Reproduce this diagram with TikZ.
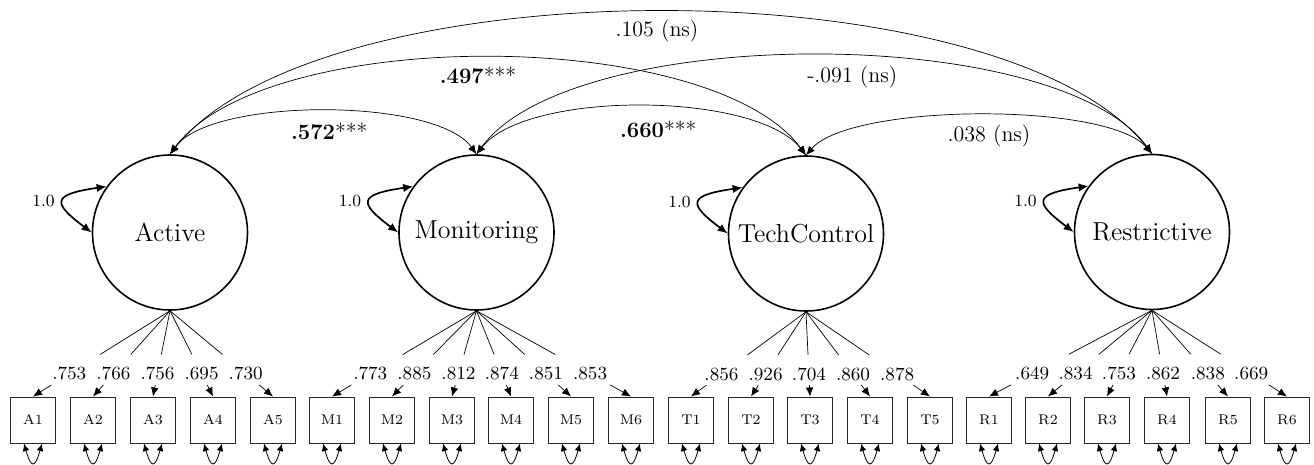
\documentclass[tikz,border=0pt]{standalone}
\usetikzlibrary{arrows.meta,calc}
\begin{document}
\begin{tikzpicture}[x=0.5pt,y=-0.5pt,
 latent/.style={circle,draw,line width=0.8pt,minimum size=77.5pt,inner sep=0pt,font=\fontsize{13}{15}\selectfont},
 manifest/.style={rectangle,draw=black!85,line width=0.5pt,minimum width=22.5pt,minimum height=23pt,inner sep=0pt,font=\fontsize{7}{8}\selectfont},
 corr/.style={line width=0.35pt,{Latex[length=4.5pt,width=3.8pt]}-{Latex[length=4.5pt,width=3.8pt]}},
 corrlbl/.style={font=\fontsize{11}{13}\selectfont,inner sep=0pt,pos=0.5},
 load/.style={line width=0.35pt,-{Latex[length=4.5pt,width=3.8pt]}},
 loadlbl/.style={inner sep=0pt,font=\fontsize{9.3}{11}\selectfont},
 varloop/.style={line width=0.85pt,{Latex[length=5pt,width=4.2pt]}-{Latex[length=5pt,width=4.2pt]}},
 varlbl/.style={font=\fontsize{8.5}{10}\selectfont,inner sep=0pt},
 resid/.style={line width=0.4pt,{Latex[length=3.8pt,width=3.3pt]}-{Latex[length=3.8pt,width=3.3pt]}}
]
\useasboundingbox (0,0) rectangle (1314,465);

\node[latent] (Act) at (170,232.5) {Active};
\node[latent] (Mon) at (476.5,232.5) {Monitoring};
\node[latent] (Tec) at (806,233.5) {TechControl};
\node[latent] (Res) at (1152,232) {Restrictive};

% variance loops
\draw[varloop] (Act.144) .. controls +(-55,8) and +(-40,-30) .. (Act.180) node[varlbl,pos=0.5,left=4pt]{1.0};
\draw[varloop] (Mon.144) .. controls +(-55,8) and +(-40,-30) .. (Mon.180) node[varlbl,pos=0.5,left=4pt]{1.0};
\draw[varloop] (Tec.144) .. controls +(-55,8) and +(-40,-30) .. (Tec.180) node[varlbl,pos=0.5,left=4pt]{1.0};
\draw[varloop] (Res.144) .. controls +(-55,8) and +(-40,-30) .. (Res.180) node[varlbl,pos=0.5,left=4pt]{1.0};

% correlations
\draw[corr] (Act.north) .. controls +(150,-189) and +(-150,-189) .. (Res.north) node[corrlbl,xshift=-2pt,yshift=-9.5pt]{.105 (ns)};
\draw[corr] (Act.north) .. controls +(95,-129) and +(-95,-129) .. (Tec.north) node[corrlbl,xshift=-5pt,yshift=-8.5pt]{\textbf{.497}***};
\draw[corr] (Mon.north) .. controls +(95,-131) and +(-95,-131) .. (Res.north) node[corrlbl,xshift=19pt,yshift=-10.5pt]{-.091 (ns)};
\draw[corr] (Act.north) .. controls +(41,-57) and +(-41,-57) .. (Mon.north) node[corrlbl,xshift=3pt,yshift=-10pt]{\textbf{.572}***};
\draw[corr] (Mon.north) .. controls +(50,-64) and +(-50,-64) .. (Tec.north) node[corrlbl,xshift=8.5pt,yshift=-11.5pt]{\textbf{.660}***};
\draw[corr] (Tec.north) .. controls +(45,-52) and +(-45,-52) .. (Res.north) node[corrlbl,xshift=5pt,yshift=-10.5pt]{.038 (ns)};

% indicators
\foreach \n/\x/\f/\l in {A1/33/Act/.753, A2/93/Act/.766, A3/153/Act/.756, A4/213/Act/.695, A5/273/Act/.730,
  M1/332/Mon/.773, M2/392/Mon/.885, M3/452/Mon/.812, M4/511/Mon/.874, M5/571/Mon/.851, M6/631/Mon/.853,
  T1/691/Tec/.856, T2/751/Tec/.926, T3/810/Tec/.704, T4/870/Tec/.860, T5/930/Tec/.878,
  R1/989/Res/.649, R2/1048/Res/.834, R3/1107/Res/.753, R4/1167/Res/.862, R5/1228/Res/.838, R6/1287/Res/.669}
{
  \node[manifest] (\n) at (\x,420) {\n};
  \draw[load] (\f.south) -- ($(\f.south)!0.51!(\n.north)$)
    ($(\f.south)!0.735!(\n.north)$) node[loadlbl]{\l}
    ($(\f.south)!0.865!(\n.north)$) -- (\n.north);
  \draw[resid] ([xshift=-4.5pt]\n.south) .. controls +(7,25) and +(-7,25) .. ([xshift=4.5pt]\n.south);
}
\end{tikzpicture}
\end{document}
